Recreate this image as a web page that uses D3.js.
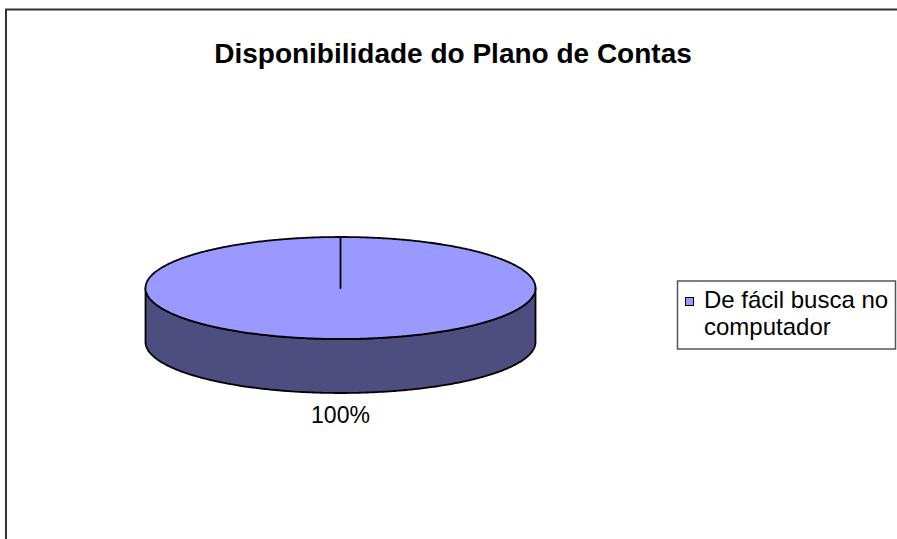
<!DOCTYPE html>
<html>
<head>
<meta charset="utf-8">
<script src="https://cdn.jsdelivr.net/npm/d3@7"></script>
<style>
  body { margin: 0; background: #fff; }
  text { font-family: "Liberation Sans", Arial, sans-serif; }
</style>
</head>
<body>
<script>
var width = 897,
    height = 539;

// data
var categories = ["De fácil busca no computador"];
var values = [100];
var labels = ["100%"];
var legendLines = [["De fácil busca no", "computador"]];
var title = "Disponibilidade do Plano de Contas";

var topColor = "#9999ff",
    sideColor = "#4d4d80";

var cx = 340.5, cy = 288,
    rx = 195, ry = 51,
    depth = 54;

var svg = d3.select("body").append("svg")
    .attr("width", width)
    .attr("height", height);

// chart frame
svg.append("rect")
    .attr("x", 6)
    .attr("y", 9.5)
    .attr("width", 960)
    .attr("height", 600)
    .attr("fill", "#fff")
    .attr("stroke", "#333")
    .attr("stroke-width", 2);

svg.append("text")
    .attr("x", 453)
    .attr("y", 63)
    .attr("text-anchor", "middle")
    .attr("font-size", 28)
    .attr("font-weight", "bold")
    .text(title);

var pie = d3.pie().sort(null);
var slices = pie(values);

// angle -> point on the flattened ellipse
function pt(a, dy)
{
  return [cx + rx * Math.sin(a), cy - ry * Math.cos(a) + (dy || 0)];
}

var g = svg.append("g");

// side (front half only)
g.selectAll("path.side")
  .data(slices)
  .enter().append("path")
    .attr("class", "side")
    .attr("d", function(d)
      {
        var a0 = Math.max(d.startAngle, Math.PI / 2),
            a1 = Math.min(d.endAngle, 3 * Math.PI / 2);
        var pts = d3.range(a0, a1, 0.01).concat([a1]);
        var front = pts.map(function(a){ return pt(a); });
        var back = pts.slice().reverse().map(function(a){ return pt(a, depth); });
        return d3.line()(front.concat(back)) + "Z";
      })
    .attr("fill", sideColor)
    .attr("stroke", "#000")
    .attr("stroke-width", 1.8)
    .attr("stroke-linejoin", "round");

// top face
g.selectAll("path.top")
  .data(slices)
  .enter().append("path")
    .attr("class", "top")
    .attr("d", function(d)
      {
        var pts = d3.range(d.startAngle, d.endAngle, 0.01).concat([d.endAngle]);
        var ring = pts.map(function(a){ return pt(a); });
        return d3.line()([[cx, cy]].concat(ring)) + "Z";
      })
    .attr("fill", topColor)
    .attr("stroke", "#000")
    .attr("stroke-width", 1.8)
    .attr("stroke-linejoin", "round");

// data label
g.selectAll("text.lbl")
  .data(slices)
  .enter().append("text")
    .attr("class", "lbl")
    .attr("x", function(d){ return pt((d.startAngle + d.endAngle) / 2)[0]; })
    .attr("y", 423)
    .attr("text-anchor", "middle")
    .attr("font-size", 23)
    .text(function(d, i){ return labels[i]; });

// legend
var legend = svg.append("g");

legend.append("rect")
    .attr("x", 677.5)
    .attr("y", 281)
    .attr("width", 218)
    .attr("height", 68)
    .attr("fill", "#fff")
    .attr("stroke", "#555")
    .attr("stroke-width", 1.5);

var item = legend.selectAll("g.item")
  .data(categories)
  .enter().append("g")
    .attr("class", "item");

item.append("rect")
    .attr("x", 685.5)
    .attr("y", 297.5)
    .attr("width", 8)
    .attr("height", 8)
    .attr("fill", topColor)
    .attr("stroke", "#000")
    .attr("stroke-width", 1);

item.append("text")
    .attr("font-size", 24)
    .selectAll("tspan")
    .data(function(d, i){ return legendLines[i]; })
    .enter().append("tspan")
      .attr("x", 704)
      .attr("y", function(d, i){ return 308 + i * 27; })
      .text(function(d){ return d; });
</script>
</body>
</html>
